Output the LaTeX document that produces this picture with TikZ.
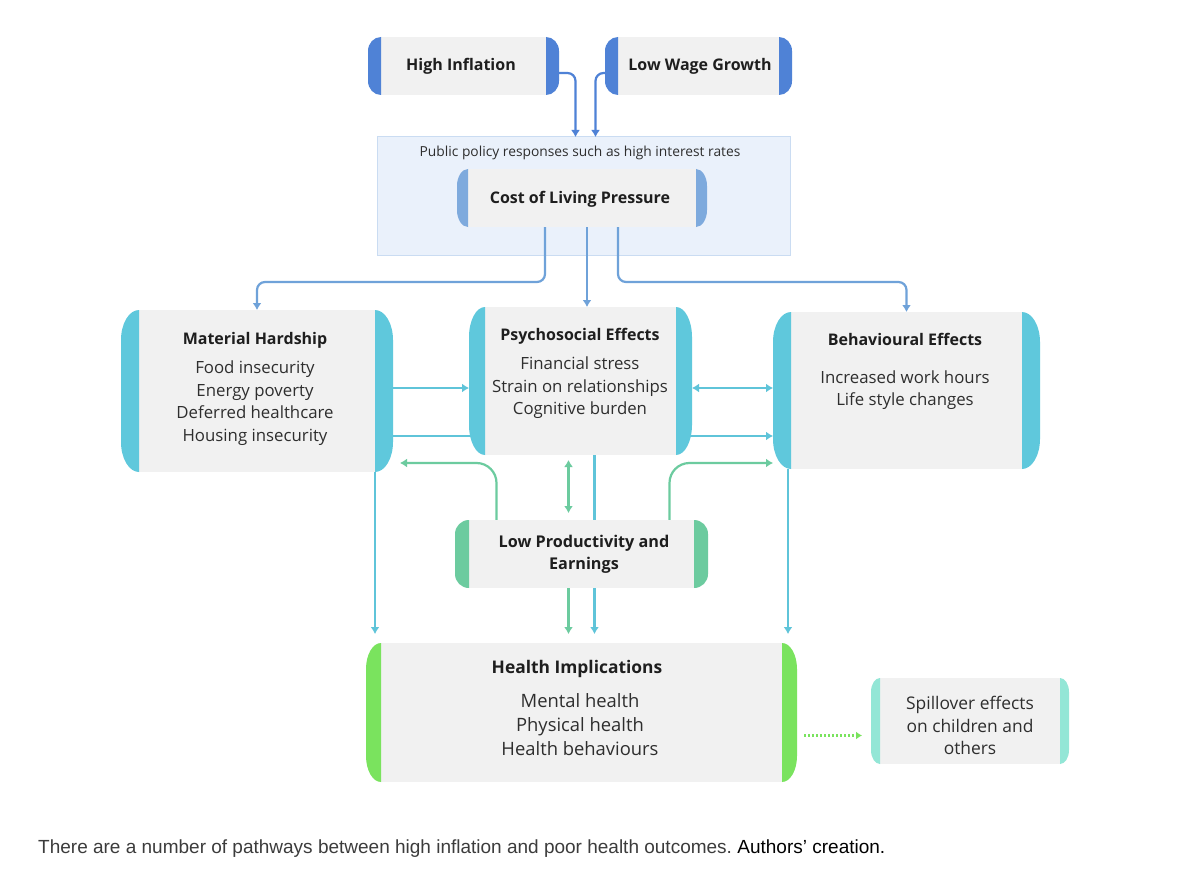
\documentclass[tikz,border=0pt]{standalone}
\usepackage{fontspec}
\setmainfont{Open Sans}
\newfontfamily\captionfont{Liberation Sans}
\usetikzlibrary{arrows.meta,calc,backgrounds}
\frenchspacing

\definecolor{boxgrey}{HTML}{F1F1F1}
\definecolor{capdeep}{HTML}{4F82D6}
\definecolor{capmid}{HTML}{7EAADD}
\definecolor{capcyan}{HTML}{5FC8DC}
\definecolor{capgreen}{HTML}{6CCB9F}
\definecolor{caplime}{HTML}{7AE35E}
\definecolor{capaqua}{HTML}{93E6D6}
\definecolor{policyfill}{HTML}{EAF1FB}
\definecolor{policyline}{HTML}{CADCF2}
\definecolor{linkcost}{HTML}{6FA2D9}
\definecolor{linkcyan}{HTML}{5FC4D9}
\definecolor{textdark}{HTML}{1E1E1E}
\definecolor{textbody}{HTML}{2E2E2E}
\definecolor{captiongrey}{HTML}{3C3C3C}

\tikzset{
  boxcapw/.store in=\boxcapw, boxcapr/.store in=\boxcapr, boxcapcol/.store in=\boxcapcol,
  boxcapw=15pt, boxcapr=25pt, boxcapcol=capcyan,
  capbox/.style={inner sep=0pt, outer sep=0pt, path picture={
    \fill[boxgrey] ([xshift=\boxcapw]path picture bounding box.south west)
      rectangle ([xshift=-\boxcapw]path picture bounding box.north east);
    \fill[\boxcapcol] ([xshift=\boxcapw]path picture bounding box.north west)
      arc[start angle=90, end angle=180, x radius=\boxcapw, y radius=\boxcapr]
      -- ([yshift=\boxcapr]path picture bounding box.south west)
      arc[start angle=180, end angle=270, x radius=\boxcapw, y radius=\boxcapr] -- cycle;
    \fill[\boxcapcol] ([xshift=-\boxcapw]path picture bounding box.north east)
      arc[start angle=90, end angle=0, x radius=\boxcapw, y radius=\boxcapr]
      -- ([yshift=\boxcapr]path picture bounding box.south east)
      arc[start angle=0, end angle=-90, x radius=\boxcapw, y radius=\boxcapr] -- cycle;
  }},
  title/.style={font=\fontsize{16}{19}\selectfont\bfseries, text=textdark, align=center},
  body/.style={font=\fontsize{16.8}{22.5}\selectfont, text=textbody, align=center},
  link/.style={line width=2.2pt, -{Latex[length=7pt,width=9pt]}},
  twolink/.style={line width=2.2pt, {Latex[length=7pt,width=9pt]}-{Latex[length=7pt,width=9pt]}},
}

\begin{document}
\begin{tikzpicture}[x=1pt, y=1pt]
    \useasboundingbox (0,0) rectangle (1200,-880);

    % Drivers
    \node[capbox, minimum width=191pt, minimum height=58pt, boxcapw=13pt, boxcapr=14pt, boxcapcol=capdeep] (hi) at (463.5,-66) {};
    \node[title] (hitxt) at (461,-66) {High Inflation};
    \node[capbox, minimum width=187pt, minimum height=58pt, boxcapw=13pt, boxcapr=14pt, boxcapcol=capdeep] (lw) at (698.5,-66) {};
    \node[title] (lwtxt) at (700,-66) {Low Wage Growth};

    % Policy band and cost of living
    \begin{scope}[on background layer]
        \fill[white] (0,0) rectangle (1200,-880);
        \node[fill=policyfill, draw=policyline, line width=1pt, minimum width=413pt, minimum height=118pt, inner sep=0pt, outer sep=0pt] (policy) at (583.5,-196) {};
    \end{scope}
    \node[font=\fontsize{13.8}{16}\selectfont, text=textbody] (policytxt) at (580,-153) {Public policy responses such as high interest rates};
    \node[capbox, minimum width=250pt, minimum height=58pt, boxcapw=11pt, boxcapr=17pt, boxcapcol=capmid] (cost) at (582,-198) {};
    \node[title] (costtxt) at (580,-199) {Cost of Living Pressure};

    % Middle row
    \node[capbox, minimum width=272pt, minimum height=162pt, boxcapw=18pt, boxcapr=30pt] (mh) at (257,-391) {};
    \node[title] (mhtitle) at (255,-340) {Material Hardship};
    \node[body] (mhbody) at (255,-403) {Food insecurity\\Energy poverty\\Deferred healthcare\\Housing insecurity};

    \node[capbox, minimum width=223pt, minimum height=148pt, boxcapw=16pt, boxcapr=30pt] (ps) at (580.5,-381) {};
    \node[title] (pstitle) at (580,-336) {Psychosocial Effects};
    \node[body] (psbody) at (580,-388) {Financial stress\\Strain on relationships\\Cognitive burden};

    \node[capbox, minimum width=267pt, minimum height=157pt, boxcapw=18pt, boxcapr=30pt] (be) at (906.5,-390.5) {};
    \node[title] (betitle) at (905,-339) {Behavioural Effects};
    \node[body] (bebody) at (905,-390) {Increased work hours\\Life style changes};

    % Productivity
    \node[capbox, minimum width=253pt, minimum height=68pt, boxcapw=14pt, boxcapr=14pt, boxcapcol=capgreen] (lp) at (581.5,-554) {};
    \node[title, font=\fontsize{16.2}{22}\selectfont\bfseries] (lptxt) at (584,-554) {Low Productivity and\\Earnings};

    % Outcomes
    \node[capbox, minimum width=431pt, minimum height=139pt, boxcapw=15pt, boxcapr=26pt, boxcapcol=caplime] (hl) at (581.5,-712.5) {};
    \node[title, font=\fontsize{17.4}{20}\selectfont\bfseries] (hltitle) at (577,-669) {Health Implications};
    \node[body, font=\fontsize{18.4}{24}\selectfont] (hlbody) at (580,-725) {Mental health\\Physical health\\Health behaviours};

    \node[capbox, minimum width=198pt, minimum height=86pt, boxcapw=9pt, boxcapr=14pt, boxcapcol=capaqua] (sp) at (970,-721) {};
    \node[body, font=\fontsize{17.4}{22.5}\selectfont] (sptxt) at (970,-725.5) {Spillover effects\\on children and\\others};

    % Connectors
    \begin{scope}[on background layer]
        \draw[link, capdeep, rounded corners=8pt] ($(hi.east)+(0,-7)$) -| ([xshift=-8]policy.north);
        \draw[link, capdeep, rounded corners=8pt] ($(lw.west)+(0,-7)$) -| ([xshift=12]policy.north);

        \draw[link, linkcost, rounded corners=8pt] ([xshift=-37]cost.south) -- ++(0,-55) -| (mh.north);
        \draw[link, linkcost] ([xshift=5]cost.south) -- ([xshift=5]cost.south |- ps.north);
        \draw[link, linkcost, rounded corners=8pt] ([xshift=36]cost.south) -- ++(0,-55) -| (be.north);

        \draw[link, linkcyan] ([yshift=3]mh.east) -- ([yshift=3]mh.east -| ps.west);
        \draw[link, linkcyan] ([yshift=-45]mh.east) -- ([yshift=-45]mh.east -| be.west);
        \draw[twolink, linkcyan] ([yshift=-7]ps.east) -- ([yshift=-7]ps.east -| be.west);

        \draw[link, linkcyan, shorten >=9pt] ([xshift=-18]mh.south east) -- ([xshift=-18]mh.south east |- hl.north);
        \draw[link, linkcyan, shorten >=9pt] ([xshift=14]ps.south) -- ([xshift=14]ps.south |- hl.north);
        \draw[link, linkcyan, shorten >=9pt] ([xshift=15]be.south west) -- ([xshift=15]be.south west |- hl.north);

        \draw[link, capgreen, rounded corners=20pt] ([xshift=-85]lp.north) |- ($(mh.south east)+(7,9)$);
        \draw[link, capgreen, rounded corners=20pt] ([xshift=88]lp.north) |- ($(be.south west)+(0,6)$);
        \draw[twolink, capgreen, shorten <=7pt, shorten >=5pt] ([xshift=-13]lp.north) -- ([xshift=-13]lp.north |- ps.south);
        \draw[link, capgreen, shorten >=9pt] ([xshift=-13]lp.south) -- ([xshift=-13]lp.south |- hl.north);

        \draw[caplime, line width=2.2pt, dash pattern=on 2pt off 2pt, -{Latex[length=6pt,width=8pt]}, shorten >=9pt] ([xshift=7,yshift=-23]hl.east) -- ([yshift=-23]hl.east -| sp.west);
    \end{scope}

    % Caption
    \node[anchor=base west, inner sep=0pt, font=\captionfont\fontsize{19}{22}\selectfont] (caption) at (38,-853)
        {\textcolor{captiongrey}{There are a number of pathways between high inflation and poor health outcomes.} \textcolor{black}{Authors’ creation.}};
\end{tikzpicture}
\end{document}
